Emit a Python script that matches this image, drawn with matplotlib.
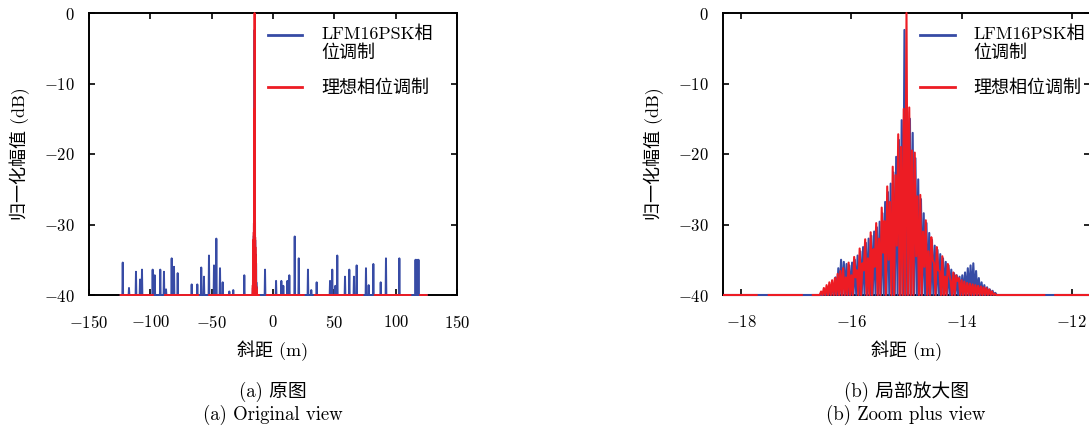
import numpy as np
import matplotlib.pyplot as plt
from matplotlib.patches import Rectangle

plt.rcParams['font.family'] = ['cmr10', 'Noto Sans CJK SC']
plt.rcParams['mathtext.fontset'] = 'cm'
plt.rcParams['axes.formatter.use_mathtext'] = True

BLUE = '#374ba5'
RED = '#ed1c24'
FLOOR = -40.0

# extent of both range profiles (m)
profile_start, profile_end = -124.2, 125.3

# LFM16PSK sidelobe spikes away from the main lobe
psk_spike_r = [-122.5, -117.4, -111.7, -108.4, -106.8, -98.1, -96.4, -91.9, -88.9,
               -87.2, -82.6, -80.7, -77.7, -66.3, -61.7, -58.5, -56.3, -52.2, -48.1,
               -46.2, -43.2, -41.0, -35.6, -32.4, -23.4, -6.5, 2.5, 6.8, 8.4, 11.7,
               13.3, 17.7, 21.0, 28.5, 31.2, 35.6, 46.5, 48.3, 50.8, 52.4, 58.7, 62.2,
               66.0, 68.2, 75.8, 78.0, 81.8, 87.8, 92.1, 103.0, 116.2, 117.4, 118.6]
psk_spike_db = [-35.4, -39.0, -36.7, -37.8, -36.4, -36.4, -37.2, -36.4, -36.7,
                -39.2, -34.8, -36.0, -36.9, -38.5, -38.5, -36.1, -37.4, -34.4, -35.8,
                -32.0, -36.2, -38.2, -39.5, -39.3, -37.2, -36.4, -38.0, -38.0, -38.7, -38.0,
                -37.2, -31.7, -34.8, -36.4, -39.3, -38.2, -38.0, -36.4, -38.7, -34.4, -37.4, -36.4,
                -37.4, -35.8, -36.2, -38.6, -35.6, -38.2, -34.8, -34.8, -35.0, -35.0, -35.0]

# main lobe: one peak every LOBE_STEP metres from LOBE_R0, each followed by a trough
LOBE_R0 = -16.55
LOBE_STEP = 0.05
ideal_lobe_db = [-39.5, -39.0, -38.6, -38.2, -37.9, -37.6, -37.0, -36.6, -36.2, -37.5,
                 -35.4, -37.2, -34.6, -36.5, -33.4, -35.5, -32.1, -34.8, -31.1, -33.5,
                 -29.8, -32.0, -27.6, -29.5, -24.6, -26.8, -21.8, -23.0, -17.2, -19.0,
                 -13.6, 0.0, -13.4, -19.5, -19.8, -26.0, -25.8, -31.0, -29.4, -33.8,
                 -31.8, -35.5, -33.2, -36.6, -34.5, -37.4, -35.6, -38.0, -36.8, -37.2,
                 -37.6, -37.9, -38.1, -38.3, -38.4, -38.5, -38.6, -38.7, -38.8, -38.9,
                 -39.0, -39.2, -39.5, -39.8, -40.0]
ideal_trough_db = [-40.0, -40.0, -40.0, -40.0, -40.0, -40.0, -40.0, -40.0, -40.0, -40.0,
                   -40.0, -40.0, -37.5, -40.0, -40.0, -36.5, -40.0, -40.0, -40.0, -36.0,
                   -40.0, -40.0, -34.0, -40.0, -35.0, -40.0, -40.0, -33.0, -40.0, -40.0,
                   -40.0, -40.0, -40.0, -40.0, -34.5, -40.0, -40.0, -36.0, -40.0, -40.0,
                   -35.0, -40.0, -36.5, -40.0, -40.0, -40.0, -37.0, -40.0, -40.0, -38.0,
                   -40.0, -40.0, -40.0, -40.0, -40.0, -40.0, -40.0, -40.0, -40.0, -40.0,
                   -40.0, -40.0, -40.0, -40.0, -40.0]
psk_lobe_db = [-40.0, -39.8, -39.5, -39.0, -38.4, -37.5, -36.2, -35.0, -35.3, -35.6,
               -35.8, -35.4, -35.0, -34.4, -33.8, -33.2, -32.6, -32.0, -31.6, -31.0,
               -30.4, -29.6, -28.4, -26.8, -25.4, -24.2, -22.6, -20.4, -18.0, -15.2,
               -2.4, -14.0, -15.0, -17.0, -20.6, -23.6, -26.4, -28.4, -29.8, -31.2,
               -32.2, -33.0, -33.6, -34.2, -34.8, -35.3, -35.8, -36.4, -36.9, -37.2,
               -37.4, -37.2, -36.8, -36.2, -35.8, -35.5, -36.6, -37.6, -38.2, -38.6,
               -38.9, -39.2, -39.4, -39.7, -40.0]

# stretches where the ideal profile drops below the floor
ideal_gaps = [(-98.0, -88.0), (-61.0, -52.0), (-11.5, -5.0), (25.0, 34.0),
              (73.0, 83.0), (112.0, 120.0),
              (-17.72, -17.5), (-16.9, -16.7), (-12.5, -12.3)]

psk_label = 'LFM16PSK相\n位调制'
ideal_label = '理想相位调制'


def lobe_points(peaks, offset, troughs=None):
    peaks = np.asarray(peaks, float)
    if troughs is None:
        troughs = np.full(len(peaks), FLOOR)
    r = LOBE_R0 + offset + LOBE_STEP * np.arange(len(peaks))
    xs = np.column_stack([r, r + LOBE_STEP / 2]).ravel()
    ys = np.column_stack([peaks, troughs]).ravel()
    return np.insert(xs, 0, r[0] - LOBE_STEP / 2), np.insert(ys, 0, FLOOR)


def sort_points(xs, ys):
    xs, ys = np.asarray(xs, float), np.asarray(ys, float)
    order = np.argsort(xs, kind='stable')
    return xs[order], ys[order]


# LFM16PSK profile
xs, ys = lobe_points(psk_lobe_db, LOBE_STEP / 4)
xs, ys = list(xs), list(ys)
xs += [profile_start, profile_end]
ys += [FLOOR, FLOOR]
for r, h in zip(psk_spike_r, psk_spike_db):
    xs += [r - 0.3, r, r + 0.3]
    ys += [FLOOR, h, FLOOR]
psk_r, psk_db = sort_points(xs, ys)

# ideal phase modulation profile
xs, ys = lobe_points(ideal_lobe_db, 0.0, ideal_trough_db)
xs, ys = list(xs), list(ys)
xs += [profile_start, profile_end]
ys += [FLOOR, FLOOR]
for a, b in ideal_gaps:
    xs += [a, (a + b) / 2, b]
    ys += [FLOOR, np.nan, FLOOR]
ideal_r, ideal_db = sort_points(xs, ys)

fig = plt.figure(figsize=(10.89, 4.30), dpi=100)
ax_full = fig.add_axes([89 / 1089, 135 / 430, 368 / 1089, 282 / 430])
ax_zoom = fig.add_axes([723 / 1089, 135 / 430, 367 / 1089, 282 / 430])

panels = [
    (ax_full, (-150, 150), [-150, -100, -50, 0, 50, 100, 150], 1.4, 0.467),
    (ax_zoom, (-18.33, -11.67), [-18, -16, -14, -12], 1.5, 0.518),
]
for ax, xlim, xticks, lw, leg_x in panels:
    clip = Rectangle((0, -0.02), 1, 1.04, transform=ax.transAxes)
    l1, = ax.plot(psk_r, psk_db, color=BLUE, lw=lw, zorder=3, label=psk_label)
    l2, = ax.plot(ideal_r, ideal_db, color=RED, lw=lw, zorder=3, label=ideal_label)
    for ln in (l1, l2):
        ln.set_clip_path(clip)

    ax.set_xlim(*xlim)
    ax.set_ylim(-40, 0)
    ax.set_xticks(xticks)
    ax.set_yticks([-40, -30, -20, -10, 0])
    ax.tick_params(direction='in', length=4, width=1.2, top=True, right=True,
                   labelsize=12)
    ax.tick_params(axis='x', pad=14)
    ax.tick_params(axis='y', pad=10)
    for sp in ax.spines.values():
        sp.set_linewidth(1.4)

    ax.set_xlabel('斜距 (m)', fontsize=13)
    ax.xaxis.set_label_coords(0.5, -0.16)
    ax.set_ylabel('归一化幅值 (dB)', fontsize=13)
    ax.yaxis.set_label_coords(-0.16, 0.5)

    leg = ax.legend(loc='upper left', bbox_to_anchor=(leg_x, 0.982), borderaxespad=0,
                    frameon=False, fontsize=13, handlelength=1.9, handletextpad=1.05,
                    labelspacing=1.0)
    handles = leg.get_lines()
    for h in handles:
        h.set_linewidth(2.0)
    # put the blue key level with the first line of its two-line label
    handles[0].set_ydata(np.asarray(handles[0].get_ydata()) + 6)

fig.text(273 / 1089, 1 - 392 / 430, '(a) 原图', ha='center', va='center', fontsize=13.5)
fig.text(273 / 1089, 1 - 415 / 430, '(a) Original view', ha='center', va='center', fontsize=13.5)
fig.text(906 / 1089, 1 - 392 / 430, '(b) 局部放大图', ha='center', va='center', fontsize=13.5)
fig.text(906 / 1089, 1 - 415 / 430, '(b) Zoom plus view', ha='center', va='center', fontsize=13.5)

fig.savefig('out.png', dpi=100)
